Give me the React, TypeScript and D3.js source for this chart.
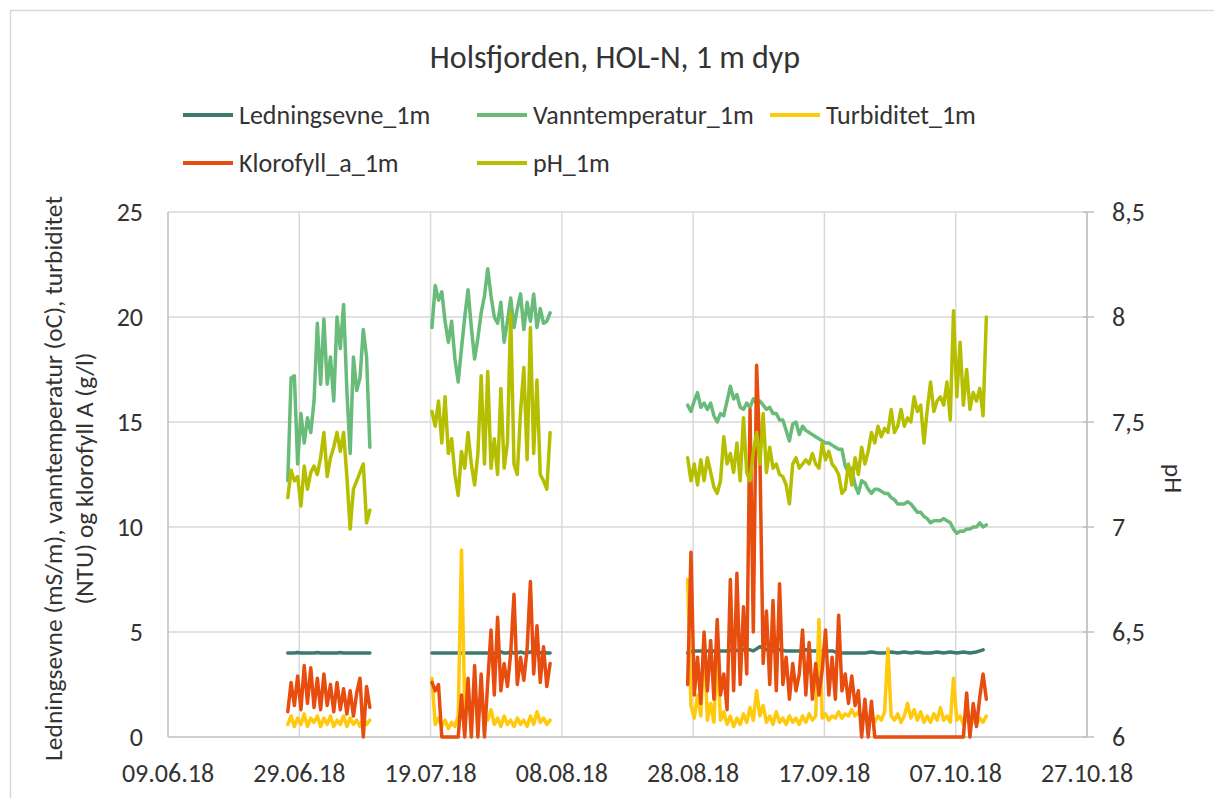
import React from "react";
import * as d3 from "d3";

// ---------- data ----------
const chartTitle = "Holsfjorden, HOL-N, 1 m dyp";
const leftAxisTitle = ["Ledningsevne (mS/m), vanntemperatur (oC), turbiditet", "(NTU) og klorofyll A (g/l)"];
const rightAxisTitle = "pH";
const xTickLabels = ["09.06.18", "29.06.18", "19.07.18", "08.08.18", "28.08.18", "17.09.18", "07.10.18", "27.10.18"];
const leftTicks = [0, 5, 10, 15, 20, 25];
const rightTicks = [6, 6.5, 7, 7.5, 8, 8.5];

const seriesNames = ["Ledningsevne_1m", "Vanntemperatur_1m", "Turbiditet_1m", "Klorofyll_a_1m", "pH_1m"];
const seriesColors = ["#3b7a6d", "#68bb78", "#ffc90e", "#e84d10", "#b5bf00"];

// segment start times (logger deployments)
const segStarts = ["2018-06-27 06:00", "2018-07-19 05:00", "2018-08-27 04:00"];

// Ledningsevne (mS/m)
const condSeg1 = [4.0, 4.0, 4.0, 4.02, 4.0, 4.0, 4.0, 4.0, 4.0, 4.02, 4.0, 4.0, 4.0, 4.0, 4.0, 4.0, 4.02, 4.0, 4.0, 4.0, 4.0, 4.0, 4.0, 4.0, 4.0, 4.0];
const condSeg2 = [4.0, 4.0, 4.0, 4.0, 4.0, 4.0, 4.0, 4.0, 4.0, 4.0, 4.0, 4.0, 4.0, 4.0, 4.0, 4.0, 4.0, 4.0, 4.0, 4.0, 4.0, 4.05, 4.0, 4.0, 4.05, 4.0, 4.0, 4.05, 4.0, 4.0, 4.05, 4.0, 4.0, 4.0, 4.05, 4.0, 4.0];
const condSeg3 = [4.0, 4.1, 4.1, 4.1, 4.1, 4.1, 4.1, 4.15, 4.1, 4.2, 4.1, 4.3, 4.15, 4.1, 4.15, 4.1, 4.1, 4.1, 4.15, 4.1, 4.1, 4.1, 4.1, 4.0, 4.0, 4.0, 4.0, 4.0, 4.05, 4.0, 4.0, 4.05, 4.0, 4.05, 4.0, 4.05, 4.0, 4.0, 4.05, 4.0, 4.05, 4.0, 4.05, 4.0, 4.05, 4.15];

// Vanntemperatur (oC)
const tempSeg1 = [12.2, 17.1, 17.2, 13.0, 15.4, 14.0, 15.2, 14.5, 16.0, 19.7, 16.8, 19.9, 16.8, 18.1, 16.0, 20.0, 18.5, 20.6, 16.5, 13.5, 18.1, 16.5, 17.1, 19.4, 18.1, 13.8];
const tempSeg2 = [19.5, 21.5, 20.8, 21.2, 19.8, 18.8, 19.8, 18.0, 16.9, 18.5, 20.0, 21.3, 19.5, 18.0, 19.0, 20.2, 21.0, 22.3, 21.0, 20.0, 19.7, 20.7, 18.8, 19.8, 20.9, 19.5, 20.4, 21.1, 19.4, 20.7, 19.8, 21.1, 19.5, 20.4, 19.7, 19.8, 20.2];
const tempSeg3 = [15.8, 15.5, 16.0, 16.4, 15.7, 15.9, 15.6, 15.9, 15.3, 15.0, 15.4, 15.3, 16.0, 16.7, 16.1, 16.3, 15.7, 15.6, 15.9, 15.7, 16.1, 15.9, 16.0, 15.8, 15.6, 15.7, 15.4, 15.4, 15.1, 15.1, 14.6, 14.1, 14.9, 15.0, 14.4, 14.8, 14.6, 14.5, 14.4, 14.3, 14.2, 14.1, 14.0, 14.0, 13.9, 13.8, 13.7, 13.7, 12.9, 12.6, 12.8, 12.0, 11.6, 12.2, 12.1, 11.8, 11.6, 11.8, 11.8, 11.7, 11.6, 11.6, 11.4, 11.3, 11.1, 11.1, 11.1, 11.2, 11.1, 10.9, 10.7, 10.7, 10.5, 10.4, 10.2, 10.3, 10.3, 10.3, 10.4, 10.3, 10.2, 9.9, 9.7, 9.8, 9.8, 9.9, 9.9, 10.0, 10.0, 10.2, 10.0, 10.1];

// Turbiditet (NTU)
const turbSeg1 = [0.6, 1.0, 0.5, 0.9, 0.6, 1.1, 0.5, 0.9, 0.7, 1.0, 0.5, 0.9, 0.6, 1.0, 0.5, 0.8, 0.6, 1.0, 0.5, 0.9, 0.6, 0.8, 0.5, 0.9, 0.6, 0.8];
const turbSeg2 = [2.8, 0.6, 0.9, 0.5, 0.8, 0.4, 0.7, 0.5, 1.0, 8.9, 1.3, 1.8, 1.2, 2.0, 1.4, 1.6, 1.0, 0.8, 1.3, 0.6, 0.9, 0.5, 1.0, 0.6, 0.8, 0.5, 0.9, 0.6, 0.8, 0.5, 1.0, 0.6, 1.2, 0.7, 0.9, 0.6, 0.8];
const turbSeg3 = [7.5, 1.5, 0.9, 2.0, 1.0, 4.8, 0.8, 1.6, 0.7, 4.0, 0.8, 1.2, 0.6, 1.0, 0.5, 0.9, 0.6, 1.1, 0.7, 1.4, 0.8, 2.2, 1.0, 1.5, 0.7, 1.0, 0.6, 1.2, 0.7, 0.9, 0.6, 1.0, 0.7, 0.9, 0.6, 1.0, 0.7, 1.1, 0.8, 1.0, 5.6, 0.9, 1.1, 0.8, 1.0, 0.9, 1.2, 0.9, 1.1, 1.0, 1.3, 1.0, 1.2, 0.9, 1.1, 0.8, 1.0, 0.7, 1.0, 0.8, 1.2, 4.2, 1.0, 0.8, 1.1, 0.7, 1.0, 1.6, 0.9, 1.3, 0.8, 1.2, 0.7, 1.0, 0.7, 1.1, 0.8, 1.4, 0.8, 1.0, 0.7, 2.8, 0.8, 1.0, 0.6, 0.9, 0.6, 0.8, 0.6, 0.9, 0.7, 1.0];

// Klorofyll a (g/l)
const chlSeg1 = [1.2, 2.6, 1.5, 2.9, 1.3, 3.4, 1.6, 3.3, 1.4, 2.8, 1.3, 3.0, 1.5, 2.5, 1.2, 2.6, 1.3, 2.3, 1.1, 2.2, 1.0, 2.1, 2.8, 0.0, 2.4, 1.4];
const chlSeg2 = [2.6, 2.2, 2.5, 0, 0, 0, 0, 0, 0, 2.0, 0, 2.8, 0, 3.4, 0, 3.0, 0, 2.6, 5.1, 2.0, 5.7, 2.2, 3.5, 2.4, 4.0, 6.8, 2.5, 3.8, 2.7, 4.2, 7.4, 3.0, 5.3, 2.6, 4.3, 2.4, 3.5];
const chlSeg3 = [2.5, 8.8, 2.0, 3.8, 1.6, 5.0, 2.2, 4.6, 1.8, 5.6, 2.0, 3.0, 1.3, 7.5, 2.2, 7.8, 2.5, 6.2, 3.0, 15.6, 5.0, 17.7, 13.5, 3.5, 6.0, 2.5, 6.5, 2.2, 7.3, 2.5, 3.8, 1.8, 3.5, 2.2, 3.0, 5.1, 2.0, 4.5, 1.8, 3.5, 2.0, 3.2, 5.1, 2.0, 3.8, 1.8, 5.8, 2.2, 3.0, 1.6, 2.9, 1.5, 2.2, 0, 1.8, 0, 1.7, 0, 0, 0, 0, 0, 0, 0, 0, 0, 0, 0, 0, 0, 0, 0, 0, 0, 0, 0, 0, 0, 0, 0, 0, 0, 0, 0, 0, 2.1, 0, 1.6, 0.5, 1.9, 3.0, 1.8];

// pH (right axis)
const phSeg1 = [7.14, 7.27, 7.22, 7.24, 7.10, 7.29, 7.18, 7.26, 7.29, 7.25, 7.33, 7.45, 7.24, 7.33, 7.38, 7.45, 7.36, 7.45, 7.24, 6.99, 7.18, 7.22, 7.26, 7.30, 7.02, 7.08];
const phSeg2 = [7.55, 7.48, 7.60, 7.40, 7.62, 7.35, 7.42, 7.25, 7.15, 7.36, 7.28, 7.45, 7.30, 7.20, 7.35, 7.72, 7.30, 7.74, 7.28, 7.42, 7.25, 7.66, 7.28, 7.40, 8.02, 7.30, 7.25, 7.55, 7.76, 7.32, 7.95, 7.35, 7.70, 7.25, 7.22, 7.18, 7.45];
const phSeg3 = [7.33, 7.22, 7.30, 7.20, 7.32, 7.22, 7.33, 7.26, 7.19, 7.16, 7.22, 7.43, 7.30, 7.35, 7.26, 7.40, 7.22, 7.52, 7.26, 7.22, 7.36, 7.45, 7.30, 7.54, 7.26, 7.38, 7.28, 7.30, 7.25, 7.24, 7.20, 7.11, 7.30, 7.33, 7.28, 7.30, 7.32, 7.30, 7.35, 7.30, 7.28, 7.40, 7.32, 7.36, 7.30, 7.28, 7.25, 7.16, 7.18, 7.30, 7.20, 7.33, 7.25, 7.38, 7.30, 7.36, 7.45, 7.40, 7.48, 7.43, 7.47, 7.45, 7.56, 7.45, 7.48, 7.56, 7.48, 7.52, 7.50, 7.62, 7.55, 7.58, 7.40, 7.56, 7.69, 7.55, 7.60, 7.62, 7.58, 7.69, 7.51, 8.03, 7.62, 7.88, 7.58, 7.75, 7.56, 7.64, 7.60, 7.66, 7.53, 8.00];

// ---------- layout ----------
const W = 1214;
const H = 798;
const plot = { left: 168, right: 1087, top: 212, bottom: 737 };
const FONT = "Carlito, Calibri, 'Open Sans', sans-serif";
const TEXT = "#333333";

const parseTime = d3.utcParse("%Y-%m-%d %H:%M");
const parseTick = d3.utcParse("%d.%m.%y");

type Seg = { start: string; stepH: number; values: number[] };

const seriesSegments: Seg[][] = [
  [
    { start: segStarts[0], stepH: 12, values: condSeg1 },
    { start: segStarts[1], stepH: 12, values: condSeg2 },
    { start: segStarts[2], stepH: 24, values: condSeg3 },
  ],
  [
    { start: segStarts[0], stepH: 12, values: tempSeg1 },
    { start: segStarts[1], stepH: 12, values: tempSeg2 },
    { start: segStarts[2], stepH: 12, values: tempSeg3 },
  ],
  [
    { start: segStarts[0], stepH: 12, values: turbSeg1 },
    { start: segStarts[1], stepH: 12, values: turbSeg2 },
    { start: segStarts[2], stepH: 12, values: turbSeg3 },
  ],
  [
    { start: segStarts[0], stepH: 12, values: chlSeg1 },
    { start: segStarts[1], stepH: 12, values: chlSeg2 },
    { start: segStarts[2], stepH: 12, values: chlSeg3 },
  ],
  [
    { start: segStarts[0], stepH: 12, values: phSeg1 },
    { start: segStarts[1], stepH: 12, values: phSeg2 },
    { start: segStarts[2], stepH: 12, values: phSeg3 },
  ],
];

export default function App() {
  const tickDates = xTickLabels.map((s) => parseTick(s) as Date);
  const x = d3.scaleUtc().domain([tickDates[0], tickDates[tickDates.length - 1]]).range([plot.left, plot.right]);
  const yL = d3.scaleLinear().domain([0, 25]).range([plot.bottom, plot.top]);
  const yR = d3.scaleLinear().domain([6, 8.5]).range([plot.bottom, plot.top]);

  const paths = seriesSegments.map((segs, si) => {
    const yScale = si === 4 ? yR : yL;
    const line = d3
      .line<[Date, number]>()
      .x((d) => x(d[0]))
      .y((d) => yScale(d[1]));
    return segs.map((seg) => {
      const t0 = parseTime(seg.start) as Date;
      const pts: [Date, number][] = seg.values.map((v, i) => [d3.utcHour.offset(t0, i * seg.stepH), v]);
      return line(pts) || "";
    });
  });

  const legendItems = [
    { idx: 0, x: 183, y: 115 },
    { idx: 1, x: 477, y: 115 },
    { idx: 2, x: 770, y: 115 },
    { idx: 3, x: 183, y: 163 },
    { idx: 4, x: 477, y: 163 },
  ];

  const fmtR = (v: number) => String(v).replace(".", ",");
  const midY = (plot.top + plot.bottom) / 2 + 4;

  return (
    <svg
      width={W}
      height={H}
      style={{ position: "absolute", left: 0, top: 0, background: "#ffffff" }}
      fontFamily={FONT}
    >
      <rect x={0} y={0} width={W} height={H} fill="#ffffff" />
      <rect x={10.5} y={10.5} width={W + 20} height={H + 20} fill="none" stroke="#d9d9d9" strokeWidth={1.5} />

      {/* title */}
      <text x={615} y={57} textAnchor="middle" dominantBaseline="central" fontSize={32} fill={TEXT}>
        {chartTitle}
      </text>

      {/* legend */}
      {legendItems.map((it) => (
        <g key={it.idx}>
          <line x1={it.x} x2={it.x + 50} y1={it.y} y2={it.y} stroke={seriesColors[it.idx]} strokeWidth={4} />
          <text x={it.x + 56} y={it.y} dominantBaseline="central" fontSize={26} fill={TEXT}>
            {seriesNames[it.idx]}
          </text>
        </g>
      ))}

      {/* gridlines */}
      {leftTicks.slice(1).map((t) => (
        <line key={"h" + t} x1={plot.left} x2={plot.right} y1={yL(t)} y2={yL(t)} stroke="#d9d9d9" strokeWidth={1.5} />
      ))}
      {tickDates.slice(1).map((d, i) => (
        <line key={"v" + i} x1={x(d)} x2={x(d)} y1={plot.top} y2={plot.bottom} stroke="#d9d9d9" strokeWidth={1.5} />
      ))}

      {/* axes lines */}
      <line x1={plot.left} x2={plot.left} y1={plot.top} y2={plot.bottom} stroke="#bfbfbf" strokeWidth={1.5} />
      <line x1={plot.left} x2={plot.right} y1={plot.bottom} y2={plot.bottom} stroke="#bfbfbf" strokeWidth={1.5} />
      <line x1={plot.right} x2={plot.right} y1={plot.top} y2={plot.bottom} stroke="#bfbfbf" strokeWidth={1.5} />
      {rightTicks.map((t) => (
        <line key={"rt" + t} x1={plot.right - 4} x2={plot.right + 7} y1={yR(t)} y2={yR(t)} stroke="#bfbfbf" strokeWidth={1.5} />
      ))}

      {/* tick labels */}
      {leftTicks.map((t) => (
        <text key={"lt" + t} x={143} y={yL(t)} textAnchor="end" dominantBaseline="central" fontSize={26} fill={TEXT}>
          {t}
        </text>
      ))}
      {rightTicks.map((t) => (
        <text key={"rl" + t} x={1112} y={yR(t)} textAnchor="start" dominantBaseline="central" fontSize={26} fill={TEXT}>
          {fmtR(t)}
        </text>
      ))}
      {tickDates.map((d, i) => (
        <text key={"xt" + i} x={x(d)} y={773} textAnchor="middle" dominantBaseline="central" fontSize={26} fill={TEXT}>
          {xTickLabels[i]}
        </text>
      ))}

      {/* axis titles */}
      <text transform={`translate(53,${midY}) rotate(-90)`} textAnchor="middle" dominantBaseline="central" fontSize={25.5} fill={TEXT}>
        {leftAxisTitle[0]}
      </text>
      <text transform={`translate(84,${midY}) rotate(-90)`} textAnchor="middle" dominantBaseline="central" fontSize={25.5} fill={TEXT}>
        {leftAxisTitle[1]}
      </text>
      <text transform={`translate(1173,${midY}) rotate(90)`} textAnchor="middle" dominantBaseline="central" fontSize={25.5} fill={TEXT}>
        {rightAxisTitle}
      </text>

      {/* series */}
      {paths.map((segs, si) =>
        segs.map((d, k) => (
          <path key={si + "-" + k} d={d} fill="none" stroke={seriesColors[si]} strokeWidth={3.5} strokeLinejoin="round" strokeLinecap="round" />
        ))
      )}
    </svg>
  );
}
